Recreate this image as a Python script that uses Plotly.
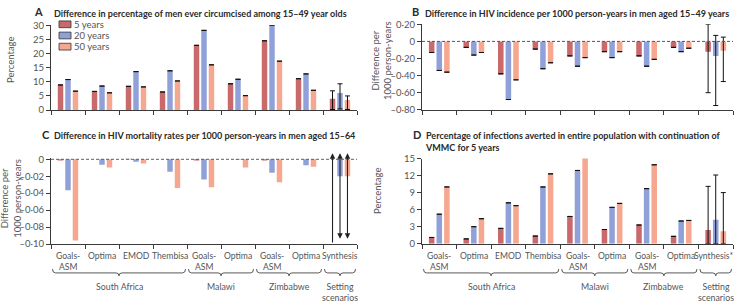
import plotly.graph_objects as go

# ---------------- data ----------------
categories = ["Goals-<br>ASM", "Optima", "EMOD", "Thembisa", "Goals-<br>ASM",
              "Optima", "Goals-<br>ASM", "Optima", "Synthesis"]
categories_d = categories[:-1] + ["Synthesis*"]
groups = ["South Africa", "Malawi", "Zimbabwe", "Setting<br>scenarios"]
group_spans = [(0, 3), (4, 5), (6, 7), (8, 8)]
series_names = ["5 years", "20 years", "50 years"]
colors = ["#c9696c", "#8fa1d8", "#f6a78f"]

circ_5 = [8.9, 6.6, 8.4, 6.4, 22.9, 9.3, 24.5, 11.1, 4.0]
circ_20 = [10.8, 8.5, 13.6, 13.9, 28.2, 10.9, 30.0, 12.8, 6.0]
circ_50 = [6.7, 6.1, 8.2, 10.3, 16.0, 5.1, 17.3, 7.0, 3.6]
circ_synth_hi = [6.8, 9.3, 5.0]
circ_synth_lo = [0.2, 0.4, 0.2]

inc_5 = [-0.13, -0.07, -0.38, -0.09, -0.17, -0.12, -0.17, -0.07, -0.12]
inc_20 = [-0.34, -0.16, -0.68, -0.32, -0.29, -0.19, -0.29, -0.12, -0.17]
inc_50 = [-0.36, -0.13, -0.45, -0.25, -0.19, -0.12, -0.21, -0.08, -0.11]
inc_synth_hi = [0.20, 0.07, 0.05]
inc_synth_lo = [-0.60, -0.75, -0.47]

mort_5 = [-0.0015, 0.0, 0.0005, 0.0, -0.0015, 0.0, -0.0015, 0.0, 0.0]
mort_20 = [-0.0367, -0.0064, -0.003, -0.0146, -0.024, -0.0005, -0.016, -0.007, -0.02]
mort_50 = [-0.096, -0.0098, -0.005, -0.034, -0.033, -0.0098, -0.027, -0.0087, -0.02]

avert_5 = [1.1, 0.85, 2.7, 1.35, 4.8, 2.5, 3.3, 1.3, 2.4]
avert_20 = [5.2, 3.0, 7.2, 10.0, 12.9, 6.4, 9.7, 4.0, 4.2]
avert_50 = [10.0, 4.4, 6.7, 12.3, 15.4, 7.1, 13.9, 4.1, 2.2]
avert_synth_hi = [10.1, 12.1, 9.0]
avert_synth_lo = [0.0, 0.0, 0.0]

yt_a = [0, 5, 10, 15, 20, 25, 30]
yt_b = [0.2, 0, -0.2, -0.4, -0.6, -0.8]
yt_b_text = ["0·20", "0", "–0·20", "–0·40", "–0·60", "–0·80"]
yt_c = [0, -0.02, -0.04, -0.06, -0.08, -0.10]
yt_c_text = ["0", "–0·02", "–0·04", "–0·06", "–0·08", "–0·10"]
yt_d = [0, 3, 6, 9, 12, 15]

titles = {
    "A": "Difference in percentage of men ever circumcised among 15–49 year olds",
    "B": "Difference in HIV incidence per 1000 person-years in men aged 15–49 years",
    "C": "Difference in HIV mortality rates per 1000 person-years in men aged 15–64",
    "D": "Percentage of infections averted in entire population with continuation of<br>VMMC for 5 years",
}

# ---------------- layout helpers ----------------
W, H = 734, 302
FONT = "Lato"
TXT = "#555555"
AX = "#3a3a3a"


def fx(px):
    return px / W


def fy(py):
    return 1 - py / H


n = len(categories)
xs = list(range(n))
BARGAP = 0.34
slot = (1 - BARGAP) / 3

panels = {
    "A": ("x", "y", (51, 357), (20, 108)),
    "B": ("x2", "y2", (422, 733), (19, 107.7)),
    "C": ("x3", "y3", (51, 357), (158, 247)),
    "D": ("x4", "y4", (422, 733), (158.3, 246.7)),
}

fig = go.Figure()


def add_bars(panel, series, err_hi=None, err_lo=None):
    xa, ya = panels[panel][0], panels[panel][1]
    for k, (vals, name, col) in enumerate(zip(series, series_names, colors)):
        ey = None
        if err_hi is not None:
            plus = [None] * (n - 1) + [err_hi[k] - vals[-1]]
            minus = [None] * (n - 1) + [vals[-1] - err_lo[k]]
            ey = dict(type="data", symmetric=False, array=plus, arrayminus=minus,
                      color="#111111", thickness=1, width=2.5)
        fig.add_trace(go.Bar(x=xs, y=vals, name=name, marker_color=col,
                             marker_line_width=0, xaxis=xa, yaxis=ya,
                             offsetgroup=str(k), showlegend=False, error_y=ey,
                             cliponaxis=False))


add_bars("A", [circ_5, circ_20, circ_50], circ_synth_hi, circ_synth_lo)
add_bars("B", [inc_5, inc_20, inc_50], inc_synth_hi, inc_synth_lo)
add_bars("C", [mort_5, mort_20, mort_50])
add_bars("D", [avert_5, avert_20, avert_50], avert_synth_hi, avert_synth_lo)

axis_common = dict(showline=True, linecolor=AX, linewidth=1, ticks="outside",
                   ticklen=4, tickcolor=AX, tickwidth=1, showgrid=False,
                   zeroline=False, tickfont=dict(family=FONT, size=9.5, color=TXT))

layout_axes = {}
yranges = {"A": [0, 30], "B": [-0.8, 0.2], "C": [-0.1, 0.0012], "D": [0, 15]}
yticks = {"A": (yt_a, [str(v) for v in yt_a]), "B": (yt_b, yt_b_text),
          "C": (yt_c, yt_c_text), "D": (yt_d, [str(v) for v in yt_d])}
for p, (xa, ya, (x0, x1), (y0, y1)) in panels.items():
    xkey = "xaxis" + xa[1:]
    ykey = "yaxis" + ya[1:]
    layout_axes[xkey] = dict(axis_common, domain=[fx(x0), fx(x1)], range=[-0.5, n - 0.5],
                             tickvals=[i - 0.5 for i in range(n + 1)],
                             ticktext=[""] * (n + 1), anchor=ya, fixedrange=True)
    layout_axes[ykey] = dict(axis_common, domain=[fy(y1), fy(y0)], range=yranges[p],
                             tickvals=yticks[p][0], ticktext=yticks[p][1],
                             anchor=xa, fixedrange=True)

fig.update_layout(**layout_axes)

annotations = []
shapes = []

# titles
title_pos = {"A": (32, 52, 6), "B": (410, 423, 6), "C": (40, 52, 133), "D": (411, 423, 133)}
for p, (lx, tx, ty) in title_pos.items():
    annotations.append(dict(text="<b>" + p + "</b>", x=fx(lx), y=fy(ty), xref="paper", yref="paper",
                            xanchor="left", yanchor="middle", showarrow=False,
                            font=dict(family=FONT, size=11, color="#2a2a2a")))
    annotations.append(dict(text="<b>" + titles[p] + "</b>", x=fx(tx), y=fy(ty - 6),
                            xref="paper", yref="paper", xanchor="left", yanchor="top",
                            showarrow=False, align="left",
                            font=dict(family=FONT, size=9, color="#2a2a2a")))

# y axis titles
ytitles = {"A": ("Percentage", 11, 56), "B": ("Difference per<br>1000 person-years", 382, 57),
           "C": ("Difference per<br>1000 person-years", 11, 200), "D": ("Percentage", 377, 192)}
for p, (t, x, y) in ytitles.items():
    annotations.append(dict(text=t, x=fx(x), y=fy(y), xref="paper", yref="paper",
                            textangle=-90, showarrow=False, xanchor="center", yanchor="middle",
                            font=dict(family=FONT, size=9.5, color=TXT)))

# zero dashed lines
for p in ["B", "C"]:
    xa, ya = panels[p][0], panels[p][1]
    shapes.append(dict(type="line", xref=xa + " domain", yref=ya, x0=0, x1=1, y0=0, y1=0,
                       line=dict(color="#4a5570", width=1, dash="3px,2px"), layer="above"))

# mortality synthesis arrows (intervals exceed the axis range)
for k in range(3):
    xpos = (n - 1) + (k - 1) * slot
    annotations.append(dict(x=xpos, y=0.0072, ax=xpos, ay=(-0.1 if k == 0 else -0.0955),
                            xref="x3", yref="y3", axref="x3", ayref="y3", text="",
                            showarrow=True, arrowhead=2, arrowsize=1, arrowwidth=1.1,
                            arrowcolor="#222222",
                            arrowside=("end" if k == 0 else "end+start"),
                            standoff=0, startstandoff=0))

# category labels, braces, group labels
for p, cats in [("C", categories), ("D", categories_d)]:
    xa = panels[p][0]
    for i, c in enumerate(cats):
        shift = -2 if c.endswith("*") else 0
        annotations.append(dict(text=c, x=i, y=fy(252), xref=xa, yref="paper",
                                xanchor="center", yanchor="top", showarrow=False,
                                xshift=shift,
                                font=dict(family=FONT, size=8.6, color=TXT)))
    (px0, px1) = panels[p][2]
    cw = (px1 - px0) / n
    for (g0, g1), gname in zip(group_spans, groups):
        a = px0 + g0 * cw + 1.5
        b = px0 + (g1 + 1) * cw - 1.5
        c = (a + b) / 2
        yt, ym, yb = 273, 277, 280
        d = 3
        path = (f"M {fx(a)},{fy(yt)} Q {fx(a)},{fy(ym)} {fx(a + d)},{fy(ym)} "
                f"L {fx(c - d)},{fy(ym)} Q {fx(c)},{fy(ym)} {fx(c)},{fy(yb)} "
                f"Q {fx(c)},{fy(ym)} {fx(c + d)},{fy(ym)} "
                f"L {fx(b - d)},{fy(ym)} Q {fx(b)},{fy(ym)} {fx(b)},{fy(yt)}")
        shapes.append(dict(type="path", path=path, xref="paper", yref="paper",
                           line=dict(color="#444444", width=0.9)))
        annotations.append(dict(text=gname, x=(g0 + g1) / 2, y=fy(283), xref=xa, yref="paper",
                                xanchor="center", yanchor="top", showarrow=False,
                                font=dict(family=FONT, size=8.8, color=TXT)))

# legend (drawn manually)
for k, (name, col) in enumerate(zip(series_names, colors)):
    ycen = 19 + k * 11.6
    shapes.append(dict(type="rect", xref="paper", yref="paper",
                       x0=fx(59), x1=fx(71), y0=fy(ycen - 3.5), y1=fy(ycen + 3.5),
                       fillcolor=col, line=dict(color="#333333", width=0.8)))
    annotations.append(dict(text=name, x=fx(72), y=fy(ycen), xref="paper", yref="paper",
                            xanchor="left", yanchor="middle", showarrow=False,
                            font=dict(family=FONT, size=9.5, color=TXT)))

fig.update_layout(width=W, height=H, autosize=False,
                  margin=dict(l=0, r=0, t=0, b=0),
                  paper_bgcolor="white", plot_bgcolor="white",
                  barmode="group", bargap=BARGAP, bargroupgap=0.27,
                  annotations=annotations, shapes=shapes, showlegend=False,
                  font=dict(family=FONT, size=9, color=TXT))

fig.write_html("out.html", config={"displayModeBar": False, "staticPlot": True},
               post_script="document.body.style.margin='0';")
